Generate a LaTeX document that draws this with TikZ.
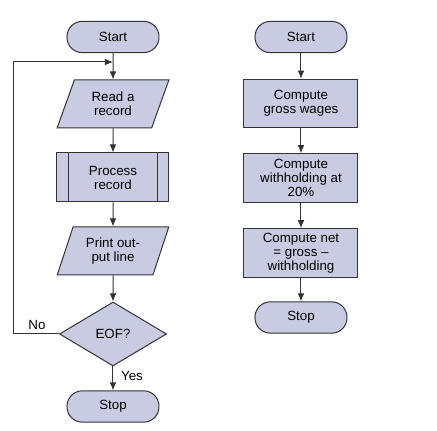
\documentclass[tikz,border=0pt]{standalone}
\usepackage{fontspec}
\setmainfont{Liberation Sans}
\usetikzlibrary{shapes.geometric,arrows.meta}
\definecolor{boxfill}{HTML}{C9CBE3}
\definecolor{lineg}{HTML}{333333}
\tikzset{
  base/.style={draw=lineg, line width=0.75pt, fill=boxfill, align=center, inner sep=0pt,
    font=\fontsize{10}{10.5}\selectfont, text=black},
  term/.style={base, rectangle, rounded corners=11.5pt, minimum width=69pt, minimum height=23.5pt},
  procbox/.style={base, rectangle, minimum width=85.5pt, minimum height=36.5pt},
  iobox/.style={base, trapezium, trapezium left angle=68, trapezium right angle=112,
    trapezium stretches=true, minimum width=84pt, minimum height=36pt},
  subbox/.style={base, rectangle, minimum width=84pt, minimum height=36.75pt},
  decbox/.style={base, diamond, aspect=1.67, minimum width=80.25pt, minimum height=48pt},
  arr/.style={draw=lineg, line width=0.75pt, -{Latex[length=6pt,width=5pt,fill=lineg]}},
  lab/.style={font=\fontsize{10}{10.5}\selectfont}
}
\begin{document}
\begin{tikzpicture}[x=0.75pt,y=-0.75pt]
\useasboundingbox (0,0) rectangle (437,431);
% left column
\node[term] (lstart) at (113,37) {Start};
\node[iobox] (lread) at (113,104) {Read a\\record};
\node[subbox] (lproc) at (113,177.5) {Process\\record};
\draw[lineg, line width=0.75pt] ([xshift=9pt]lproc.north west) -- ([xshift=9pt]lproc.south west);
\draw[lineg, line width=0.75pt] ([xshift=-9pt]lproc.north east) -- ([xshift=-9pt]lproc.south east);
\node[iobox] (lprint) at (113,251) {Print out-\\put line};
\node[decbox] (leof) at (113,334) {EOF?};
\node[term] (lstop) at (113,406.5) {Stop};
\coordinate (join) at (113,62);
\coordinate (corner) at (14,62);
\draw[arr] (lstart) -- (lread);
\draw[arr] (lread) -- (lproc);
\draw[arr] (lproc) -- (lprint);
\draw[arr] (lprint) -- (leof);
\draw[arr] (leof) -- (lstop);
\draw[arr] (leof.west) -| (corner) -- (join);
\node[lab] (no) at (37,325) {No};
\node[lab] (yes) at (132,376) {Yes};
% right column
\node[term] (rstart) at (301,37) {Start};
\node[procbox] (rgross) at (301,103.5) {Compute\\gross wages};
\node[procbox] (rwith) at (301,178) {Compute\\withholding at\\20\%};
\node[procbox] (rnet) at (301,253) {Compute net\\= gross –\\withholding};
\node[term] (rstop) at (301,317.5) {Stop};
\draw[arr] (rstart) -- (rgross);
\draw[arr] (rgross) -- (rwith);
\draw[arr] (rwith) -- (rnet);
\draw[arr] (rnet) -- (rstop);
\end{tikzpicture}
\end{document}
